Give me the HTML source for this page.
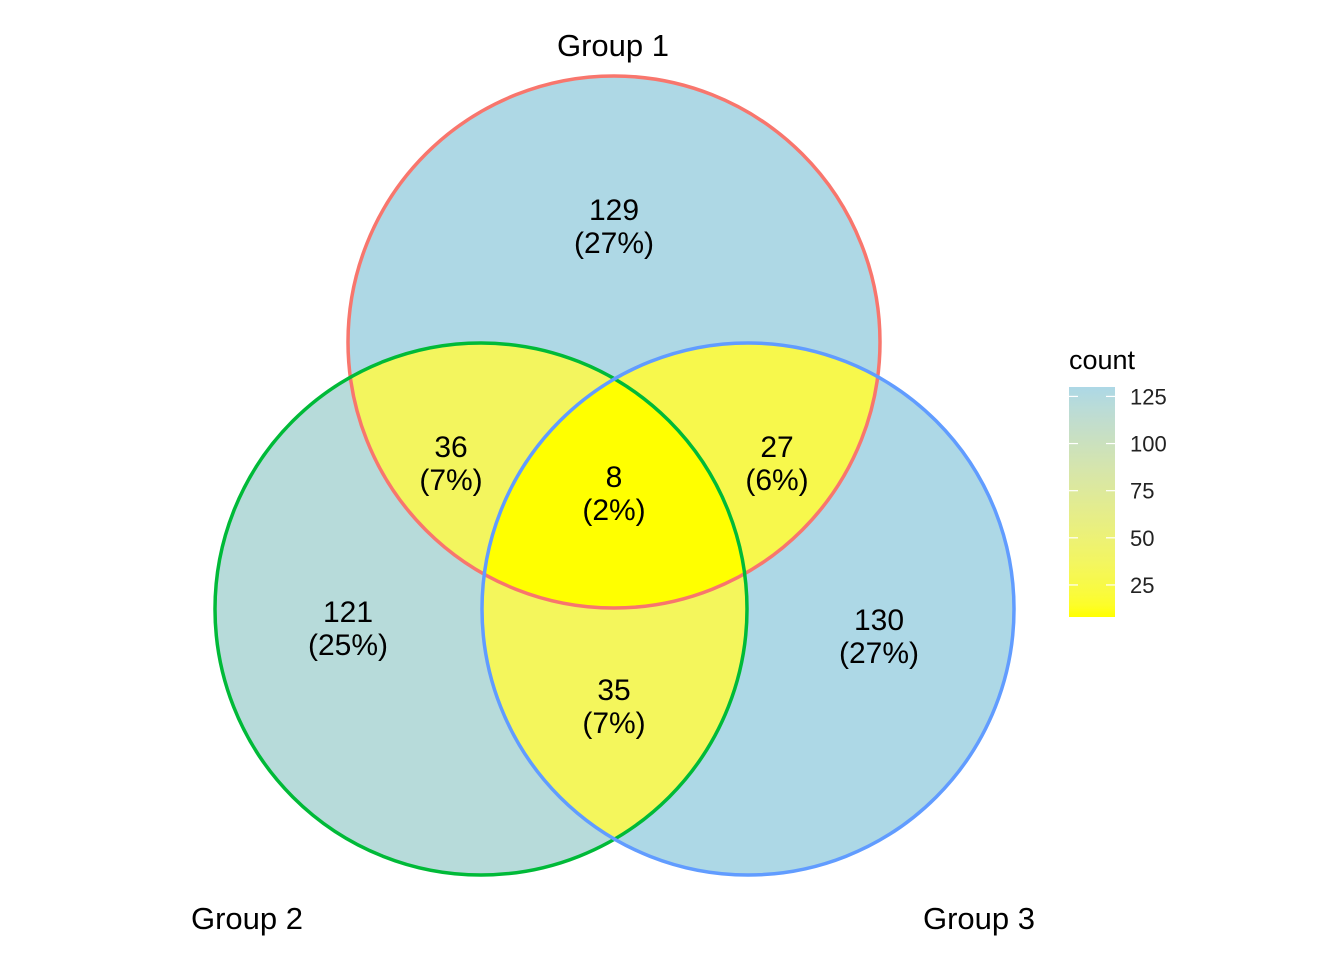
<!DOCTYPE html>
<html><head><meta charset="utf-8"><style>
body{margin:0;background:#fff;}
svg{display:block;font-family:"Liberation Sans",Arial,sans-serif;}
</style></head><body>
<svg id="chart" width="1344" height="960" viewBox="0 0 1344 960">
<defs>
<linearGradient id="lg" x1="0" y1="1" x2="0" y2="0"></linearGradient>
</defs>
<g id="regions"></g>
<g id="outlines"></g>
<g id="labels"></g>
<g id="legend"></g>
</svg>
<script>
const setNames = ["Group 1","Group 2","Group 3"];
const regionKeys = ["1","2","3","12","13","23","123"];
const regionCounts = [129,121,130,36,27,35,8];
const legendTicks = [25,50,75,100,125];

const NS="http://www.w3.org/2000/svg";
const svg=document.getElementById('chart');
const defs=svg.querySelector('defs');
function mk(tag,attrs,parent){const e=document.createElementNS(NS,tag);for(const k in attrs)e.setAttribute(k,attrs[k]);if(parent)parent.appendChild(e);return e;}
const R=266;
const circles=[{cx:614,cy:342,stroke:"#F8766D"},{cx:481,cy:609,stroke:"#00BA38"},{cx:748,cy:609,stroke:"#619CFF"}];
const labelPos={"1":[614,210],"2":[348,612],"3":[879,620],"12":[451,447],"13":[777,447],"23":[614,690],"123":[614,477]};
const setLabelPos=[[613,45],[247,918],[979,918]];
const total=regionCounts.reduce((a,b)=>a+b,0);
const vmin=Math.min(...regionCounts), vmax=Math.max(...regionCounts);
// Lab interpolation
function s2l(c){c/=255;return c<=0.04045?c/12.92:Math.pow((c+0.055)/1.055,2.4);}
function l2s(c){c=c<=0.0031308?12.92*c:1.055*Math.pow(c,1/2.4)-0.055;return Math.max(0,Math.min(255,Math.round(c*255)));}
function toLab(rgb){const [r,g,b]=rgb.map(s2l);let X=(0.4124*r+0.3576*g+0.1805*b)/0.95047,Y=0.2126*r+0.7152*g+0.0722*b,Z=(0.0193*r+0.1192*g+0.9505*b)/1.08883;
const f=t=>t>0.008856?Math.cbrt(t):7.787*t+16/116;const fx=f(X),fy=f(Y),fz=f(Z);return [116*fy-16,500*(fx-fy),200*(fy-fz)];}
function fromLab(L){const fy=(L[0]+16)/116,fx=fy+L[1]/500,fz=fy-L[2]/200;const fi=t=>t*t*t>0.008856?t*t*t:(t-16/116)/7.787;
const X=fi(fx)*0.95047,Y=fi(fy),Z=fi(fz)*1.08883;
const r=3.2406*X-1.5372*Y-0.4986*Z,g=-0.9689*X+1.8758*Y+0.0415*Z,b=0.0557*X-0.2040*Y+1.0570*Z;return [l2s(r),l2s(g),l2s(b)];}
const loL=toLab([255,255,0]), hiL=toLab([173,216,230]);
function color(v){const t=(v-vmin)/(vmax-vmin);const c=fromLab(loL.map((a,i)=>a+(hiL[i]-a)*t));return `rgb(${c[0]},${c[1]},${c[2]})`;}

circles.forEach((c,i)=>{const cp=mk('clipPath',{id:'cp'+i},defs);mk('circle',{cx:c.cx,cy:c.cy,r:R},cp);});
const regs=document.getElementById('regions');
regionKeys.forEach((k,ri)=>{
  const inc=k.split('').map(d=>+d-1);
  const exc=[0,1,2].filter(i=>!inc.includes(i));
  const m=mk('mask',{id:'m'+ri},defs);
  mk('rect',{x:0,y:0,width:1344,height:960,fill:'#fff'},m);
  exc.forEach(i=>mk('circle',{cx:circles[i].cx,cy:circles[i].cy,r:R,fill:'#000'},m));
  let parent=regs;
  inc.forEach(i=>{parent=mk('g',{'clip-path':`url(#cp${i})`},parent);});
  const r=mk('rect',{x:0,y:0,width:1344,height:960,fill:color(regionCounts[ri]),mask:`url(#m${ri})`},parent);
  
  
});
const ol=document.getElementById('outlines');
circles.forEach((c,i)=>{
  const e=mk('circle',{cx:c.cx,cy:c.cy,r:R,fill:'none',stroke:c.stroke,'stroke-width':3.5},ol);
  
  
});
const lb=document.getElementById('labels');
const FS=30;
regionKeys.forEach((k,ri)=>{
  const [x,y]=labelPos[k];
  const t=mk('text',{x:x,y:y+10,'text-anchor':'middle','font-size':FS,fill:'#000'},lb);
  t.textContent=regionCounts[ri];
  
  
  const p=mk('text',{x:x,y:y+43,'text-anchor':'middle','font-size':FS,fill:'#000'},lb);
  p.textContent='('+Math.round(regionCounts[ri]/total*100)+'%)';
  
  
});
setNames.forEach((n,i)=>{
  const t=mk('text',{x:setLabelPos[i][0],y:setLabelPos[i][1]+11,'text-anchor':'middle','font-size':31,fill:'#000'},lb);
  t.textContent=n;
  
  
});
const lg=document.getElementById('legend');
const grad=document.getElementById('lg');
for(let s=0;s<=20;s++){mk('stop',{offset:s/20,'stop-color':color(vmin+(vmax-vmin)*s/20)},grad);}
const by0=617, by1=387;
const ly=v=>by0+(v-vmin)/(vmax-vmin)*(by1-by0);
const tt=mk('text',{x:1069,y:369,'font-size':27,fill:'#000'},lg);tt.textContent='count';

const bar=mk('rect',{x:1069,y:by1,width:46,height:by0-by1,fill:'url(#lg)'},lg);

legendTicks.forEach(v=>{
  const y=ly(v);
  mk('line',{x1:1069,x2:1078,y1:y,y2:y,stroke:'#fff','stroke-width':1.2},lg);
  mk('line',{x1:1106,x2:1115,y1:y,y2:y,stroke:'#fff','stroke-width':1.2},lg);
  const t=mk('text',{x:1130,y:y+8,'font-size':22,fill:'#222'},lg);t.textContent=v;
  
});
</script>
</body></html>
